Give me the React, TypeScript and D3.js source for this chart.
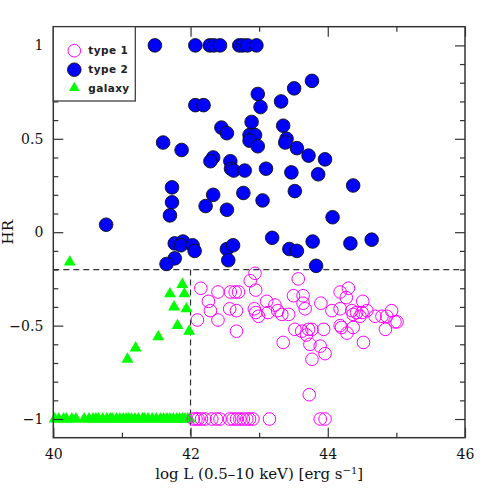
import React, { useRef, useEffect } from 'react';
import * as d3 from 'd3';

// type 2 (filled blue circles)
const type2X = [41.48, 42.07, 42.28, 42.34, 42.43, 42.71, 42.76, 42.83, 42.96,
  42.07, 42.19, 43.77, 43.51, 42.98, 43.32, 43.02, 42.89, 43.35, 42.45, 42.53,
  42.86, 42.94, 42.86, 42.98, 43.40, 43.38, 41.60, 43.55, 41.87, 43.72, 43.96,
  42.33, 42.29, 42.58, 42.59, 42.63, 42.79, 43.10, 43.47, 43.86, 44.37, 41.73,
  42.77, 43.05, 43.52, 42.33, 41.73, 42.22, 42.53, 41.70, 44.07, 40.77, 43.19,
  43.44, 43.55, 43.78, 44.33, 44.64, 43.83, 41.77, 41.89, 41.86, 42.03, 42.06,
  41.77, 41.65, 42.53, 42.62, 42.55];
const type2Y = [1, 1, 1, 1, 1, 1, 1, 1, 1,
  0.68, 0.68, 0.81, 0.77, 0.74, 0.70, 0.67, 0.59, 0.57, 0.56, 0.53,
  0.52, 0.52, 0.49, 0.46, 0.50, 0.48, 0.48, 0.45, 0.44, 0.41, 0.39,
  0.40, 0.38, 0.38, 0.34, 0.33, 0.33, 0.34, 0.32, 0.31, 0.25, 0.24,
  0.21, 0.17, 0.22, 0.20, 0.16, 0.14, 0.12, 0.09, 0.08, 0.04, -0.03,
  -0.09, -0.10, -0.05, -0.06, -0.04, -0.18, -0.06, -0.05, -0.07, -0.07, -0.10,
  -0.14, -0.17, -0.09, -0.07, -0.15];

// type 1 (open magenta circles)
const type1X = [42.94, 42.87, 43.57, 42.15, 42.40, 42.58, 42.65, 42.70, 42.95, 42.26,
  43.50, 43.64, 42.29, 42.57, 42.67, 43.11, 42.93, 42.95, 42.99, 43.23,
  43.27, 43.33, 43.43, 43.13, 42.10, 42.40, 42.67, 43.67, 43.64, 43.90,
  43.52, 43.62, 43.72, 43.69, 43.77, 43.35, 43.74, 43.89, 43.96, 43.94,
  44.30, 44.18, 44.27, 44.51, 44.06, 44.18, 44.35, 44.42, 44.50, 44.57,
  44.37, 44.47, 44.69, 44.79, 44.86, 44.93, 44.98, 45.01, 44.84, 44.18,
  44.20, 44.28, 44.37, 44.52, 43.77, 43.73,
  42.04, 42.08, 42.11, 42.16, 42.21, 42.31, 42.38, 42.43, 42.57, 42.62,
  42.67, 42.72, 42.77, 42.82, 42.86, 42.91, 43.15, 43.89, 43.96];
const type1Y = [-0.22, -0.26, -0.25, -0.30, -0.32, -0.32, -0.32, -0.32, -0.31, -0.37,
  -0.34, -0.34, -0.42, -0.41, -0.42, -0.37, -0.41, -0.43, -0.45, -0.39,
  -0.42, -0.44, -0.44, -0.43, -0.47, -0.47, -0.53, -0.41, -0.38, -0.38,
  -0.52, -0.53, -0.52, -0.55, -0.52, -0.59, -0.60, -0.61, -0.65, -0.52,
  -0.30, -0.32, -0.35, -0.37, -0.42, -0.41, -0.42, -0.43, -0.43, -0.42,
  -0.44, -0.45, -0.45, -0.45, -0.45, -0.42, -0.48, -0.48, -0.52, -0.50,
  -0.51, -0.54, -0.51, -0.59, -0.68, -0.87,
  -1, -1, -1, -1, -1, -1, -1, -1, -1, -1,
  -1, -1, -1, -1, -1, -1, -1, -1, -1];

// galaxies (green triangles)
const galX = [40.24, 41.88, 41.70, 41.91, 41.76, 41.94, 41.81, 41.98, 41.53, 41.20, 41.08,
  40.02, 40.08, 40.15, 40.19, 40.27, 40.33, 40.45, 40.52, 40.58, 40.62, 40.66, 40.72,
  40.78, 40.83, 40.86, 40.92, 40.97, 41.02, 41.06, 41.10, 41.14, 41.19, 41.24, 41.30,
  41.33, 41.38, 41.44, 41.50, 41.56, 41.61, 41.66, 41.70, 41.75, 41.80, 41.84, 41.88,
  41.92, 41.96, 41.99];
const galY = [-0.16, -0.28, -0.33, -0.33, -0.40, -0.41, -0.50, -0.53, -0.56, -0.62, -0.68,
  -1, -1, -1, -1, -1, -1, -1, -1, -1, -1, -1, -1,
  -1, -1, -1, -1, -1, -1, -1, -1, -1, -1, -1, -1,
  -1, -1, -1, -1, -1, -1, -1, -1, -1, -1, -1, -1,
  -1, -1, -1];

const xMajor = [40, 42, 44, 46];
const xMinor = [41, 43, 45];
const yMajor = [-1, -0.5, 0, 0.5, 1];
const yMinor = [-0.9, -0.8, -0.7, -0.6, -0.4, -0.3, -0.2, -0.1, 0.1, 0.2, 0.3, 0.4, 0.6, 0.7, 0.8, 0.9];
const hrCut = -0.2;
const lumCut = 42;
const legendLabels = ['type 1', 'type 2', 'galaxy'];

export default function App() {
  const ref = useRef<SVGSVGElement>(null);

  useEffect(() => {
    const W = 491, H = 491;
    const m = { left: 53.3, right: 26, top: 26.7, bottom: 53.3 };
    const w = W - m.left - m.right;
    const h = H - m.top - m.bottom;

    const root = d3.select(ref.current);
    root.selectAll('*').remove();
    root.append('rect').attr('width', W).attr('height', H).attr('fill', '#fff');
    const svg = root.append('g').attr('transform', 'translate(' + m.left + ',' + m.top + ')');

    const x = d3.scaleLinear().domain([40, 46]).range([0, w]);
    const y = d3.scaleLinear().domain([-1.1, 1.1]).range([h, 0]);
    const fmt = d3.format('');
    const font = 'DejaVu Serif';

    // dashed selection lines
    svg.append('line')
      .attr('x1', 0).attr('x2', w).attr('y1', y(hrCut)).attr('y2', y(hrCut))
      .attr('stroke', '#333').attr('stroke-width', 1.2).attr('stroke-dasharray', '6,4');
    svg.append('line')
      .attr('x1', x(lumCut)).attr('x2', x(lumCut)).attr('y1', y(hrCut)).attr('y2', h)
      .attr('stroke', '#333').attr('stroke-width', 1.2).attr('stroke-dasharray', '6,4');

    // galaxies
    const tri = d3.symbol(d3.symbolTriangle).size(62);
    svg.append('g').selectAll('path')
      .data(galX.map((d, i) => [d, galY[i]]))
      .join('path')
        .attr('d', tri)
        .attr('transform', d => 'translate(' + x(d[0]) + ',' + y(d[1]) + ')')
        .attr('fill', '#00ff00');

    // type 1
    svg.append('g').selectAll('circle')
      .data(type1X.map((d, i) => [d, type1Y[i]]))
      .join('circle')
        .attr('cx', d => x(d[0])).attr('cy', d => y(d[1])).attr('r', 6.3)
        .attr('fill', 'none').attr('stroke', '#ff00ff').attr('stroke-width', 1);

    // type 2
    svg.append('g').selectAll('circle')
      .data(type2X.map((d, i) => [d, type2Y[i]]))
      .join('circle')
        .attr('cx', d => x(d[0])).attr('cy', d => y(d[1])).attr('r', 6.8)
        .attr('fill', '#0000ff').attr('stroke', '#111').attr('stroke-width', 0.9);

    // axes, ticks inward on all sides
    const styleAxis = (g, labels) => {
      g.select('.domain').remove();
      g.selectAll('line').attr('stroke', '#333').attr('stroke-width', 1.2);
      g.selectAll('text').attr('font-family', font).attr('font-size', 14).attr('fill', '#111');
      if (!labels) g.selectAll('text').remove();
    };
    svg.append('g').attr('transform', 'translate(0,' + h + ')')
      .call(d3.axisBottom(x).tickValues(xMajor).tickSize(-10).tickPadding(11).tickFormat(fmt))
      .call(g => styleAxis(g, true));
    svg.append('g').attr('transform', 'translate(0,' + h + ')')
      .call(d3.axisBottom(x).tickValues(xMinor).tickSize(-5))
      .call(g => styleAxis(g, false));
    svg.append('g')
      .call(d3.axisTop(x).tickValues(xMajor).tickSize(-10))
      .call(g => styleAxis(g, false));
    svg.append('g')
      .call(d3.axisTop(x).tickValues(xMinor).tickSize(-5))
      .call(g => styleAxis(g, false));

    svg.append('g')
      .call(d3.axisLeft(y).tickValues(yMajor).tickSize(-10).tickPadding(10).tickFormat(fmt))
      .call(g => styleAxis(g, true));
    svg.append('g')
      .call(d3.axisLeft(y).tickValues(yMinor).tickSize(-5))
      .call(g => styleAxis(g, false));
    svg.append('g').attr('transform', 'translate(' + w + ',0)')
      .call(d3.axisRight(y).tickValues(yMajor).tickSize(-10))
      .call(g => styleAxis(g, false));
    svg.append('g').attr('transform', 'translate(' + w + ',0)')
      .call(d3.axisRight(y).tickValues(yMinor).tickSize(-5))
      .call(g => styleAxis(g, false));

    // frame
    svg.append('rect').attr('width', w).attr('height', h)
      .attr('fill', 'none').attr('stroke', '#333').attr('stroke-width', 1.5);

    // axis titles
    const xt = svg.append('text')
      .attr('x', w / 2).attr('y', h + 41)
      .attr('text-anchor', 'middle')
      .attr('font-family', font).attr('font-size', 15).attr('fill', '#111');
    xt.append('tspan').text('log L (0.5\u201310 keV) [erg s');
    xt.append('tspan').attr('dy', -5).attr('font-size', 10).text('\u22121');
    xt.append('tspan').attr('dy', 5).text(']');

    svg.append('text')
      .attr('transform', 'translate(' + (-40) + ',' + (y(0)) + ') rotate(-90)')
      .attr('text-anchor', 'middle')
      .attr('font-family', font).attr('font-size', 15).attr('fill', '#111')
      .text('HR');

    // legend
    const lg = svg.append('g');
    lg.append('rect').attr('x', 0).attr('y', 0).attr('width', 82).attr('height', 74.3)
      .attr('fill', '#fff').attr('stroke', '#333').attr('stroke-width', 1.2);
    const ly = [24, 43, 61.3];
    lg.append('circle').attr('cx', 21).attr('cy', ly[0]).attr('r', 6.3)
      .attr('fill', 'none').attr('stroke', '#ff00ff');
    lg.append('circle').attr('cx', 21).attr('cy', ly[1]).attr('r', 6.8)
      .attr('fill', '#0000ff').attr('stroke', '#111').attr('stroke-width', 0.9);
    lg.append('path').attr('d', d3.symbol(d3.symbolTriangle).size(50))
      .attr('transform', 'translate(21,' + ly[2] + ')').attr('fill', '#00ff00');
    lg.selectAll('text.lab')
      .data(legendLabels)
      .join('text')
        .attr('class', 'lab')
        .attr('x', 35).attr('y', (d, i) => ly[i])
        .attr('dy', '0.35em')
        .attr('font-family', 'DejaVu Sans').attr('font-weight', 'bold')
        .attr('font-size', 10.5).attr('fill', '#222')
        .attr('letter-spacing', 0.4)
        .text(d => d);
  }, []);

  return <svg ref={ref} width={491} height={491}
    style={{ position: 'absolute', left: 0, top: 0, display: 'block' }}></svg>;
}
